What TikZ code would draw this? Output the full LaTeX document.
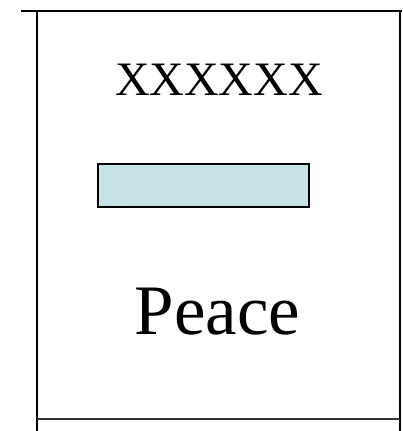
\documentclass[tikz,border=0pt]{standalone}
\usepackage{fontspec}
\setmainfont{Liberation Serif}
\definecolor{barfill}{HTML}{C6E4E8}
\begin{document}
\begin{tikzpicture}[x=1pt, y=-1pt,
			frame/.style={line width=2.4pt, black},
			bar/.style={rectangle, draw, line width=2pt, fill=barfill, minimum width=211pt, minimum height=43pt, inner sep=0pt},
			label/.style={inner sep=0pt, font=\fontsize{48}{50}\selectfont}]

		\useasboundingbox (0, 0) rectangle (403, 431);

		% frame
		\draw[frame] (21, 11) -- (402, 11);
		\draw[frame] (37, 11) -- (37, 431);
		\draw[frame] (400, 11) -- (400, 431);
		\draw[frame, black!80] (37, 419) -- (400, 419);

		\node[label] (title) at (219, 80) {XXXXXX};
		\node[bar] (box) at (203, 185) {};
		\node[label, font=\fontsize{71}{74}\selectfont, anchor=base] (peace) at (217.5, 334) {Peace};
	\end{tikzpicture}
\end{document}
